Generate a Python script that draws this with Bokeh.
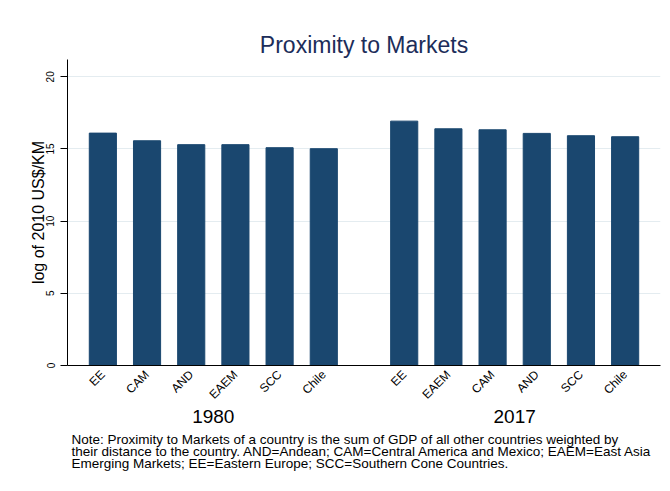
import math
from bokeh.plotting import figure
from bokeh.models import FactorRange, ColumnDataSource, Title, FixedTicker
from bokeh.embed import file_html
from bokeh.resources import INLINE

# ---- data ----
years = ["1980", "2017"]
cats_1980 = ["EE", "CAM", "AND", "EAEM", "SCC", "Chile"]
vals_1980 = [16.10, 15.57, 15.30, 15.30, 15.09, 15.02]
cats_2017 = ["EE", "EAEM", "CAM", "AND", "SCC", "Chile"]
vals_2017 = [16.93, 16.40, 16.33, 16.08, 15.92, 15.85]
y_ticks = [0, 5, 10, 15, 20]

title_text = "Proximity to Markets"
y_label = "log of 2010 US$/KM"
note_lines = [
    "Note: Proximity to Markets of a country is the sum of GDP of all other countries weighted by",
    "their distance to the country. AND=Andean; CAM=Central America and Mexico; EAEM=East Asia",
    "Emerging Markets; EE=Eastern Europe; SCC=Southern Cone Countries.",
]

FONT = "Liberation Sans"
BAR = "#1a476f"

factors = [(years[0], c) for c in cats_1980] + [(years[1], c) for c in cats_2017]
values = vals_1980 + vals_2017
src = ColumnDataSource(dict(x=factors, top=values))

x_range = FactorRange(*factors, group_padding=0.82, range_padding=0.3,
                      range_padding_units="absolute")

p = figure(x_range=x_range, y_range=(0, 21.2), width=662, height=479,
           output_backend="svg", toolbar_location=None,
           min_border_left=67, min_border_right=2, min_border_top=59,
           min_border_bottom=114)

p.vbar(x="x", top="top", width=0.614, source=src, fill_color=BAR, line_color=BAR)

# title
p.title.text = title_text
p.title.align = "center"
p.title.text_font = FONT
p.title.text_font_size = "23px"
p.title.text_font_style = "normal"
p.title.text_color = "#1c2d5a"
p.title.standoff = 3

# y axis
ya = p.yaxis[0]
ya.ticker = FixedTicker(ticks=y_ticks)
ya.major_label_orientation = "vertical"
ya.major_label_text_font = FONT
ya.major_label_text_font_size = "10px"
ya.major_label_text_color = "black"
ya.major_tick_out = 7
ya.major_tick_in = 0
ya.minor_tick_line_color = None
ya.axis_line_color = "black"
ya.major_tick_line_color = "black"
ya.axis_label = y_label
ya.axis_label_text_font = FONT
ya.axis_label_text_font_size = "16px"
ya.axis_label_text_font_style = "normal"
ya.axis_label_text_color = "black"
ya.axis_label_standoff = -3
ya.major_label_standoff = 6

# x axis
xa = p.xaxis[0]
xa.major_label_orientation = math.pi / 4
xa.major_label_text_font = FONT
xa.major_label_text_font_size = "12px"
xa.major_label_text_color = "black"
xa.major_tick_line_color = None
xa.minor_tick_line_color = None
xa.axis_line_color = "black"
xa.group_text_font = FONT
xa.group_text_font_size = "19px"
xa.group_text_font_style = "normal"
xa.group_text_color = "black"
xa.separator_line_color = None
xa.major_label_standoff = 1

# grids
p.xgrid.grid_line_color = None
p.ygrid.ticker = FixedTicker(ticks=y_ticks)
p.ygrid.grid_line_color = "#e4ecf0"
p.ygrid.grid_line_width = 1

p.outline_line_color = None
p.background_fill_color = "white"
p.border_fill_color = "white"

note = Title(text="\n".join(note_lines), align="left", text_font=FONT,
             text_font_size="13.5px", text_font_style="normal", text_color="black",
             text_line_height=0.8, standoff=7, offset=4)
p.add_layout(note, "below")

open("out.html", "w").write(file_html(p, INLINE))
